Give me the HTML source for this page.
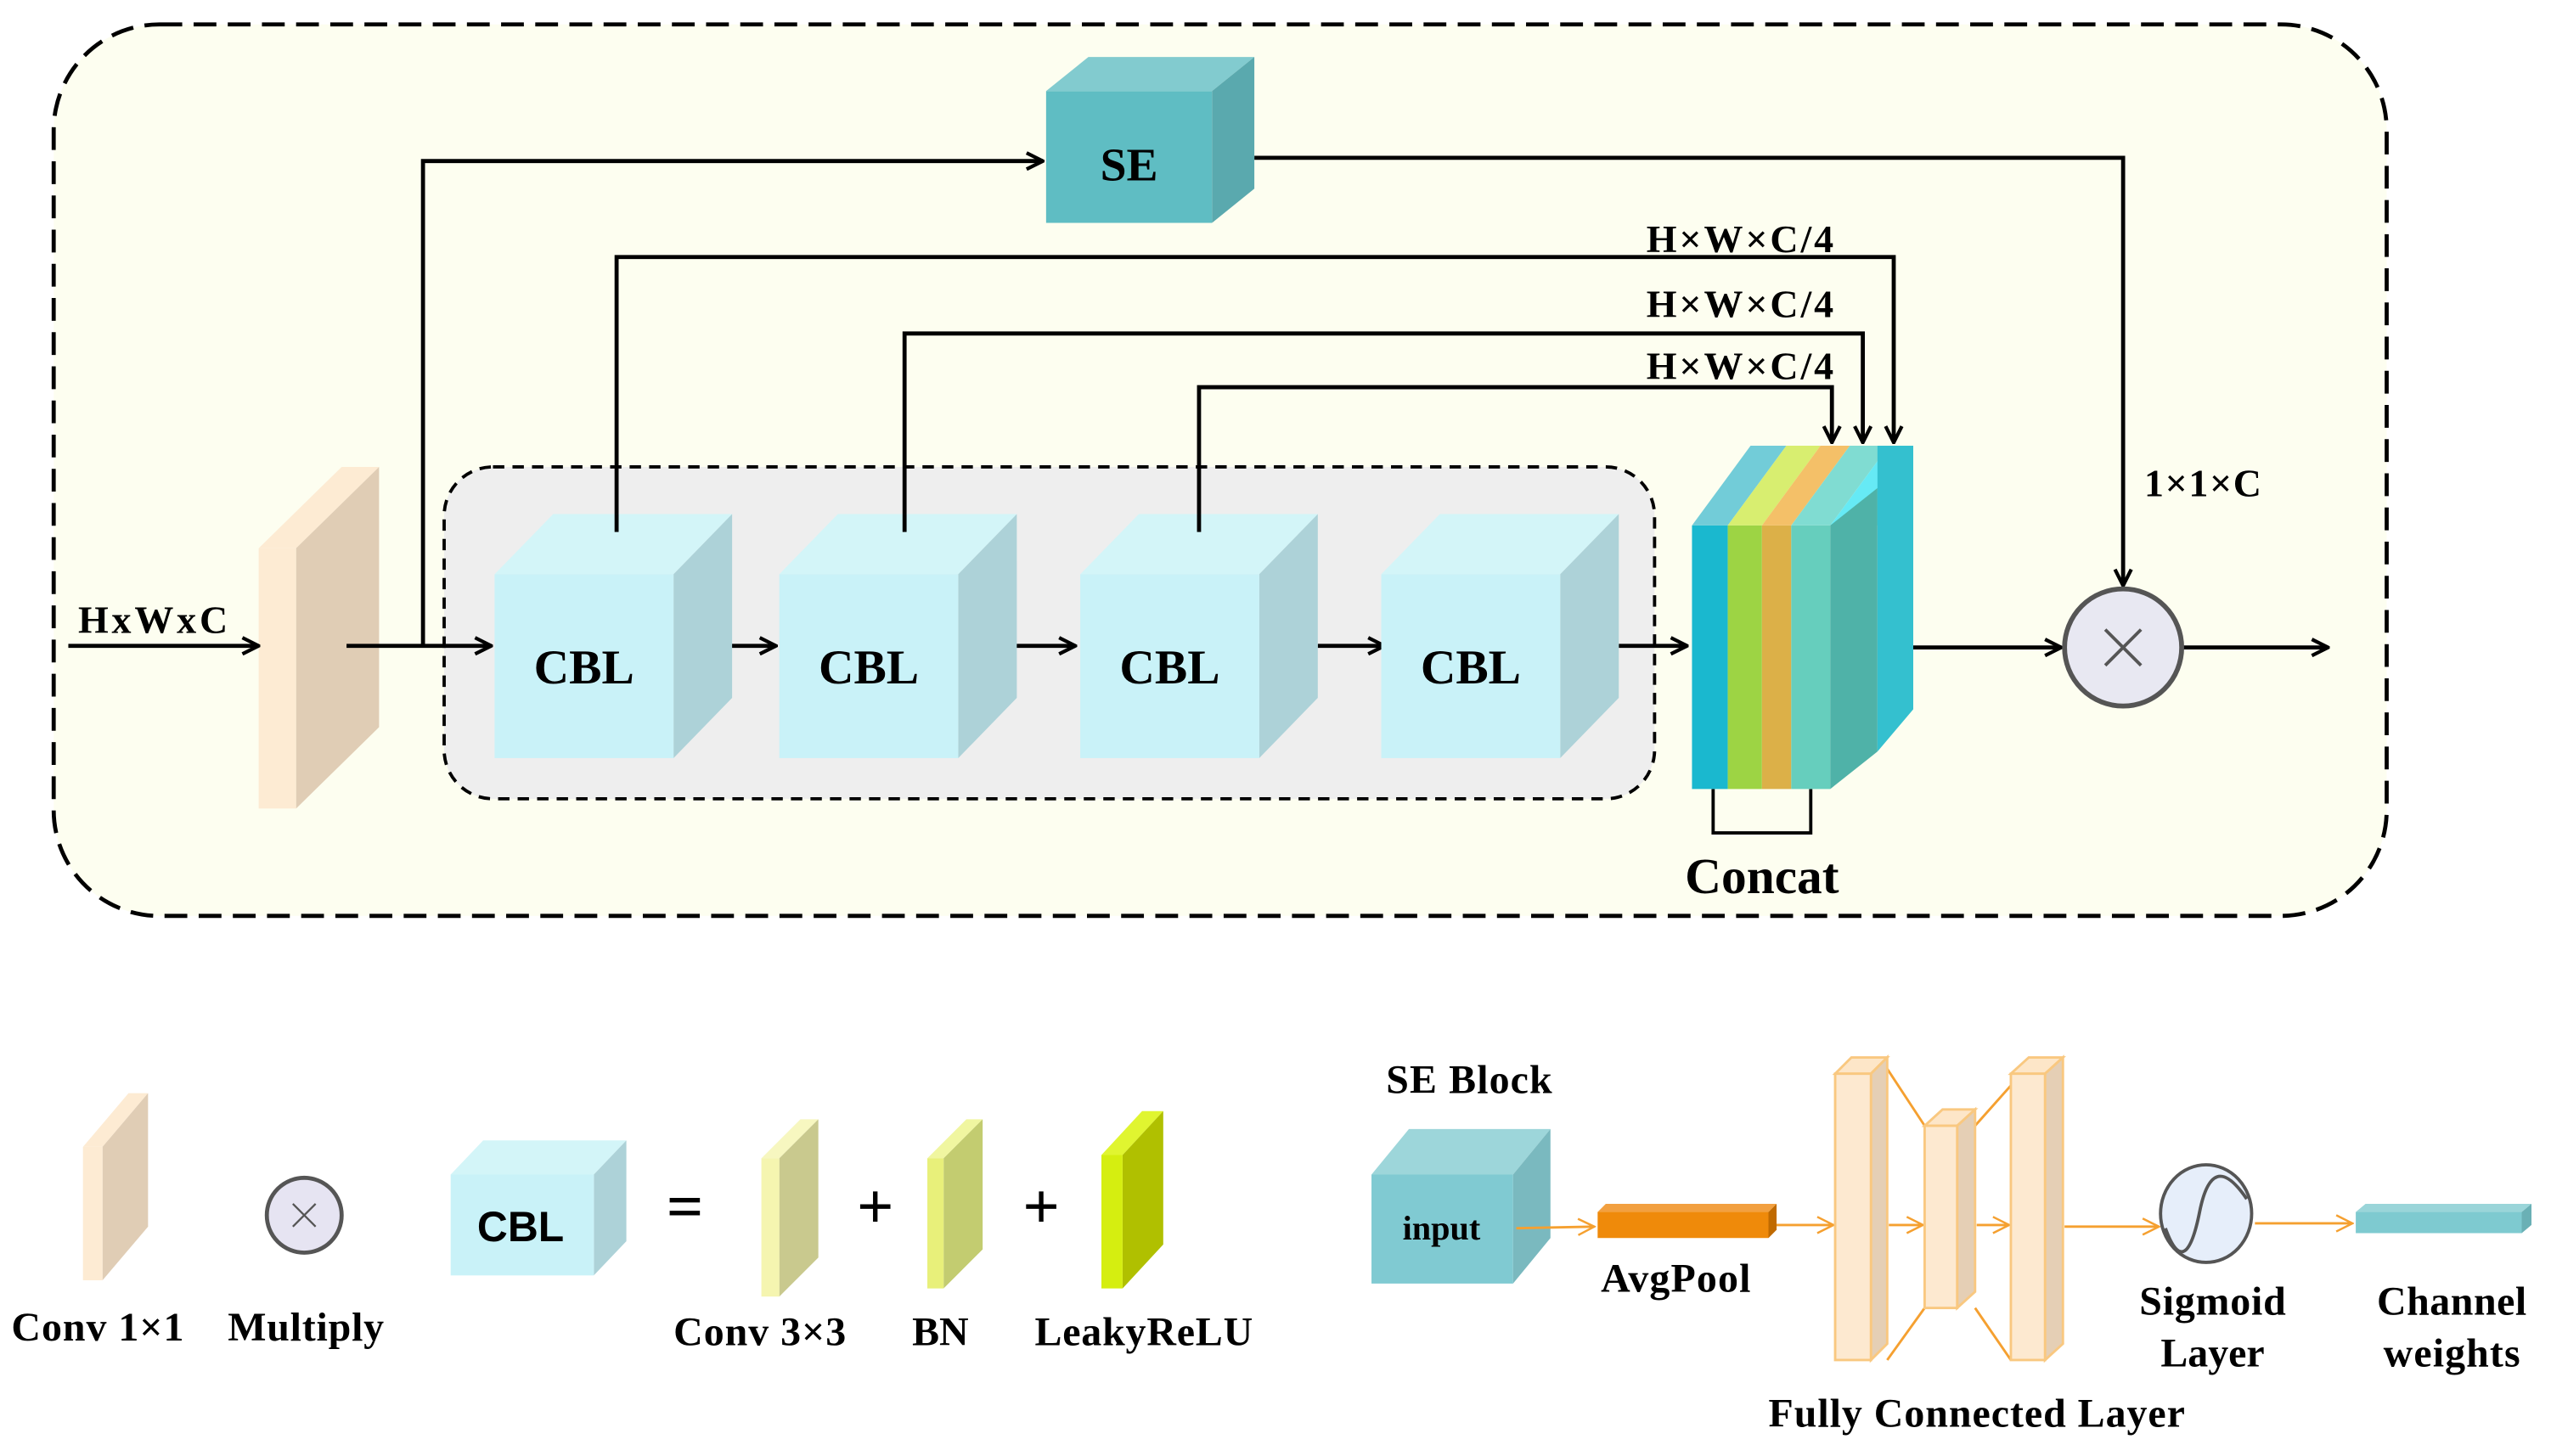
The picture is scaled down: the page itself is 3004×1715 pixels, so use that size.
<!DOCTYPE html>
<html><head><meta charset="utf-8"><style>html,body{margin:0;padding:0;background:#fff}svg{display:block}text{font-family:"Liberation Serif",serif;font-weight:bold;fill:#000}</style></head><body>
<svg width="3004" height="1715" viewBox="0 0 1568 895" preserveAspectRatio="none" xmlns="http://www.w3.org/2000/svg">
<defs>
<marker id="ah" viewBox="0 0 12 12" refX="11" refY="6" markerWidth="12" markerHeight="12" markerUnits="userSpaceOnUse" orient="auto"><path d="M1,1 L11,6 L1,11" fill="none" stroke="#000" stroke-width="2.2"/></marker>
<marker id="oh" viewBox="0 0 12 12" refX="11" refY="6" markerWidth="12" markerHeight="12" markerUnits="userSpaceOnUse" orient="auto"><path d="M1,1 L11,6 L1,11" fill="none" stroke="#f5a030" stroke-width="1.3"/></marker>
</defs>
<rect x="0" y="0" width="1568" height="895" fill="#fff"/>
<rect x="33" y="15" width="1434" height="548" rx="65" fill="#fdfef0" stroke="#000" stroke-width="2.5" stroke-dasharray="14 7"/>
<rect x="273" y="287" width="744" height="204" rx="30" fill="#eeeeee" stroke="#000" stroke-width="2" stroke-dasharray="7 5"/>

<polygon points="159,337 182,337 233,287 210,287" fill="#fdebd3"/>
<polygon points="182,337 233,287 233,447 182,497" fill="#e0cdb5"/>
<rect x="159" y="337" width="23" height="160" fill="#fdebd3"/>

<g stroke="#000" stroke-width="2.5" fill="none">
<line x1="42" y1="397" x2="159" y2="397" marker-end="url(#ah)"/>
<line x1="213" y1="397" x2="302" y2="397" marker-end="url(#ah)"/>
<polyline points="260,397 260,99 641,99" marker-end="url(#ah)"/>
<polyline points="771,97 1305,97 1305,360" marker-end="url(#ah)"/>
<polyline points="379,327 379,158 1164,158 1164,272" marker-end="url(#ah)"/>
<polyline points="556,327 556,205 1145,205 1145,272" marker-end="url(#ah)"/>
<polyline points="737,327 737,238 1126,238 1126,272" marker-end="url(#ah)"/>
<line x1="436" y1="397" x2="477" y2="397" marker-end="url(#ah)"/>
<line x1="620" y1="397" x2="661" y2="397" marker-end="url(#ah)"/>
<line x1="810" y1="397" x2="851" y2="397" marker-end="url(#ah)"/>
<line x1="995" y1="397" x2="1037" y2="397" marker-end="url(#ah)"/>
<line x1="1168" y1="398" x2="1267" y2="398" marker-end="url(#ah)"/>
<line x1="1342" y1="398" x2="1431" y2="398" marker-end="url(#ah)"/>
<polyline points="1053,485 1053,512 1113,512 1113,485" stroke-width="2"/>
</g>

<polygon points="643,56 745,56 771,35 669,35" fill="#82cbcf"/>
<polygon points="745,56 771,35 771,116 745,137" fill="#5aa9ae"/>
<rect x="643" y="56" width="102" height="81" fill="#5fbdc3"/>
<text x="694" y="111" font-size="29" text-anchor="middle">SE</text>

<g>
<polygon points="304,353 414,353 450,316 340,316" fill="#d3f5f8"/><polygon points="414,353 450,316 450,429 414,466" fill="#add2d8"/><rect x="304" y="353" width="110" height="113" fill="#c9f2f8"/>
<polygon points="479,353 589,353 625,316 515,316" fill="#d3f5f8"/><polygon points="589,353 625,316 625,429 589,466" fill="#add2d8"/><rect x="479" y="353" width="110" height="113" fill="#c9f2f8"/>
<polygon points="664,353 774,353 810,316 700,316" fill="#d3f5f8"/><polygon points="774,353 810,316 810,429 774,466" fill="#add2d8"/><rect x="664" y="353" width="110" height="113" fill="#c9f2f8"/>
<polygon points="849,353 959,353 995,316 885,316" fill="#d3f5f8"/><polygon points="959,353 995,316 995,429 959,466" fill="#add2d8"/><rect x="849" y="353" width="110" height="113" fill="#c9f2f8"/>
</g>
<g stroke="#000" stroke-width="2.5"><line x1="379" y1="327" x2="379" y2="316"/><line x1="556" y1="327" x2="556" y2="316"/><line x1="737" y1="327" x2="737" y2="316"/></g>
<g font-size="30" text-anchor="middle"><text x="359" y="420">CBL</text><text x="534" y="420">CBL</text><text x="719" y="420">CBL</text><text x="904" y="420">CBL</text></g>

<polygon points="1040,323 1062,323 1098,274 1076,274" fill="#72ccd8"/>
<polygon points="1062,323 1083,323 1119,274 1098,274" fill="#d8ee70"/>
<polygon points="1083,323 1101,323 1137,274 1119,274" fill="#f4c068"/>
<polygon points="1101,323 1125,323 1161,274 1137,274" fill="#80dcd2"/>
<polygon points="1125,323 1154,323 1176,274 1161,274" fill="#66eaf5"/>
<rect x="1040" y="323" width="22" height="162" fill="#1ab8cf"/>
<rect x="1062" y="323" width="21" height="162" fill="#9dd444"/>
<rect x="1083" y="323" width="18" height="162" fill="#dcb048"/>
<rect x="1101" y="323" width="24" height="162" fill="#66cebd"/>
<polygon points="1125,323 1154,300 1154,462 1125,485" fill="#4fb2a8"/>
<polygon points="1154,300 1176,274 1176,436 1154,462" fill="#34c0cf"/>
<rect x="1154" y="274" width="22" height="26" fill="#34c0cf"/>

<g font-size="24">
<text x="1012" y="155" textLength="115">H×W×C/4</text>
<text x="1012" y="195" textLength="115">H×W×C/4</text>
<text x="1012" y="233" textLength="115">H×W×C/4</text>
<text x="1318" y="305" textLength="72">1×1×C</text>
<text x="48" y="389" textLength="92">HxWxC</text>
</g>
<text x="1083" y="549" font-size="31" text-anchor="middle">Concat</text>

<circle cx="1305" cy="398" r="36" fill="#e8e8f2" stroke="#555" stroke-width="3"/>
<g stroke="#555" stroke-width="2"><line x1="1294" y1="387" x2="1316" y2="409"/><line x1="1316" y1="387" x2="1294" y2="409"/></g>

<polygon points="51,705 63,705 91,672 79,672" fill="#fdebd3"/><polygon points="63,705 91,672 91,754 63,787" fill="#e0cdb5"/><rect x="51" y="705" width="12" height="82" fill="#fdebd3"/>
<circle cx="187" cy="747" r="23" fill="#e6e4f2" stroke="#555" stroke-width="2.5"/>
<g stroke="#555" stroke-width="1.2"><line x1="180" y1="740" x2="194" y2="754"/><line x1="194" y1="740" x2="180" y2="754"/></g>
<polygon points="277,722 365,722 385,701 297,701" fill="#d3f5f8"/><polygon points="365,722 385,701 385,763 365,784" fill="#add2d8"/><rect x="277" y="722" width="88" height="62" fill="#c9f2f8"/>
<text x="320" y="763" font-size="26" text-anchor="middle" style="font-family:'Liberation Sans',sans-serif">CBL</text>
<text x="421" y="755" font-size="40" text-anchor="middle">=</text>
<polygon points="468,712 479,712 503,688 492,688" fill="#f7f7c0"/><polygon points="479,712 503,688 503,773 479,797" fill="#c9c98e"/><rect x="468" y="712" width="11" height="85" fill="#f5f5b0"/>
<text x="538" y="755" font-size="40" text-anchor="middle">+</text>
<polygon points="570,712 580,712 604,688 594,688" fill="#f0f6a0"/><polygon points="580,712 604,688 604,768 580,792" fill="#c3cc70"/><rect x="570" y="712" width="10" height="80" fill="#e8f07a"/>
<text x="640" y="755" font-size="40" text-anchor="middle">+</text>
<polygon points="677,710 690,710 715,683 702,683" fill="#e0f530"/><polygon points="690,710 715,683 715,765 690,792" fill="#b0c000"/><rect x="677" y="710" width="13" height="82" fill="#d5ee10"/>
<g font-size="25" text-anchor="middle">
<text x="60" y="824" textLength="106">Conv 1×1</text><text x="188" y="824" textLength="96">Multiply</text><text x="467" y="827" textLength="106">Conv 3×3</text><text x="578" y="827">BN</text><text x="703" y="827" textLength="134">LeakyReLU</text>
<text x="903" y="672" textLength="102">SE Block</text><text x="1030" y="794" textLength="92">AvgPool</text><text x="1360" y="808" textLength="90">Sigmoid</text><text x="1360" y="840">Layer</text><text x="1507" y="808" textLength="92">Channel</text><text x="1507" y="840" textLength="84">weights</text><text x="1215" y="877" textLength="256">Fully Connected Layer</text>
</g>
<polygon points="843,722 930,722 953,694 866,694" fill="#9dd6da"/><polygon points="930,722 953,694 953,761 930,789" fill="#7ab9bf"/><rect x="843" y="722" width="87" height="67" fill="#80cad2"/>
<text x="886" y="762" font-size="21" text-anchor="middle">input</text>
<g stroke="#f5a030" stroke-width="1.5" fill="none">
<line x1="932" y1="755" x2="980" y2="754" marker-end="url(#oh)"/>
<line x1="1090" y1="753" x2="1127" y2="753" marker-end="url(#oh)"/>
<line x1="1161" y1="753" x2="1182" y2="753" marker-end="url(#oh)"/>
<line x1="1215" y1="753" x2="1235" y2="753" marker-end="url(#oh)"/>
<line x1="1269" y1="754" x2="1327" y2="754" marker-end="url(#oh)"/>
<line x1="1386" y1="752" x2="1446" y2="752" marker-end="url(#oh)"/>
<line x1="1160" y1="657" x2="1183" y2="692"/><line x1="1160" y1="836" x2="1183" y2="804"/>
<line x1="1214" y1="692" x2="1238" y2="665"/><line x1="1214" y1="804" x2="1236" y2="836"/>
</g>
<polygon points="982,745 1087,745 1092,740 987,740" fill="#f2a040"/><polygon points="1087,745 1092,740 1092,756 1087,761" fill="#c06a00"/><rect x="982" y="745" width="105" height="16" fill="#ef8a0a"/>
<g stroke="#f9c880" stroke-width="1.5">
<polygon points="1128,660 1150,660 1160,650 1138,650" fill="#fde6c8"/><polygon points="1150,660 1160,650 1160,826 1150,836" fill="#e5cfb5"/><rect x="1128" y="660" width="22" height="176" fill="#fde9d0"/>
<polygon points="1183,692 1203,692 1214,682 1194,682" fill="#fde6c8"/><polygon points="1203,692 1214,682 1214,794 1203,804" fill="#e5cfb5"/><rect x="1183" y="692" width="20" height="112" fill="#fde9d0"/>
<polygon points="1236,660 1257,660 1268,650 1247,650" fill="#fde6c8"/><polygon points="1257,660 1268,650 1268,826 1257,836" fill="#e5cfb5"/><rect x="1236" y="660" width="21" height="176" fill="#fde9d0"/>
</g>
<ellipse cx="1356" cy="746" rx="28" ry="30" fill="#e6eefa" stroke="#555" stroke-width="2"/>
<path d="M1331,755 C1340,780 1347,770 1352,745 C1357,720 1366,715 1381,737" fill="none" stroke="#555" stroke-width="2"/>
<polygon points="1448,745 1550,745 1556,740 1454,740" fill="#9ad5d9"/><polygon points="1550,745 1556,740 1556,753 1550,758" fill="#6ab0b5"/><rect x="1448" y="745" width="102" height="13" fill="#7ecad0"/>
</svg>
</body></html>
